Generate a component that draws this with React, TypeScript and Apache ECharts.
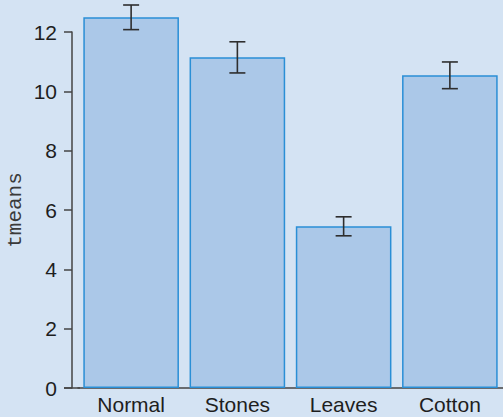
import React, { useEffect, useRef } from "react";
import * as echarts from "echarts";

const categories = ["Normal", "Stones", "Leaves", "Cotton"];
const means = [12.5, 11.15, 5.45, 10.54];
const errLow = [12.08, 10.62, 5.13, 10.09];
const errHigh = [12.91, 11.67, 5.77, 10.99];
const yTicks = { min: 0, max: 12, interval: 2 };

export default function App() {
  const ref = useRef<HTMLDivElement>(null);
  useEffect(() => {
    if (!ref.current) return;
    const chart = echarts.init(ref.current, null, { renderer: "svg" });
    const axisColor = "#444";
    const textColor = "#1e1e1e";
    chart.setOption({
      animation: false,
      backgroundColor: "#d4e3f3",
      grid: { left: 78, right: 0, top: 32, bottom: 29, outerBoundsMode: "none", containLabel: false },
      xAxis: {
        type: "category",
        data: categories,
        axisLine: { show: true, lineStyle: { color: axisColor, width: 1.5 } },
        axisTick: { show: false },
        axisLabel: {
          color: textColor,
          fontSize: 21,
          fontFamily: "Liberation Sans, Arial, sans-serif",
          margin: 6,
        },
      },
      yAxis: {
        type: "value",
        min: yTicks.min,
        max: yTicks.max,
        interval: yTicks.interval,
        offset: 6,
        name: "tmeans",
        nameLocation: "middle",
        nameRotate: 90,
        nameGap: 46,
        nameMoveOverlap: false,
        nameTextStyle: {
          fontFamily: "Liberation Mono, Courier New, monospace",
          fontSize: 21,
          color: "#3a3a3a",
        },
        splitLine: { show: false },
        axisLine: { show: true, lineStyle: { color: axisColor, width: 1.5 } },
        axisTick: { show: true, length: 8, lineStyle: { color: axisColor, width: 1.5 } },
        axisLabel: {
          color: textColor,
          fontSize: 21,
          fontFamily: "Liberation Sans, Arial, sans-serif",
          margin: 15,
        },
      },
      graphic: [
        {
          type: "line",
          shape: { x1: 64, y1: 388, x2: 80, y2: 388 },
          style: { stroke: axisColor, lineWidth: 1.5 },
          z: 10,
        },
      ],
      series: [
        {
          type: "bar",
          data: means,
          barCategoryGap: "10%",
          clip: false,
          itemStyle: { color: "#abc8e8", borderColor: "#2a8fd6", borderWidth: 1.5 },
        },
        {
          type: "custom",
          clip: false,
          z: 5,
          data: categories.map((_, i) => [i, errLow[i], errHigh[i]]),
          renderItem: (params: any, api: any) => {
            const x = api.value(0);
            const lo = api.coord([x, api.value(1)]);
            const hi = api.coord([x, api.value(2)]);
            const hw = 8;
            const style = { stroke: "#2e2e2e", lineWidth: 1.6 };
            return {
              type: "group",
              children: [
                { type: "line", shape: { x1: lo[0], y1: lo[1], x2: hi[0], y2: hi[1] }, style },
                { type: "line", shape: { x1: lo[0] - hw, y1: lo[1], x2: lo[0] + hw, y2: lo[1] }, style },
                { type: "line", shape: { x1: hi[0] - hw, y1: hi[1], x2: hi[0] + hw, y2: hi[1] }, style },
              ],
            };
          },
        },
      ],
    });
    return () => chart.dispose();
  }, []);
  return <div ref={ref} style={{ width: 503, height: 417, position: "fixed", left: 0, top: 0 }} />;
}
